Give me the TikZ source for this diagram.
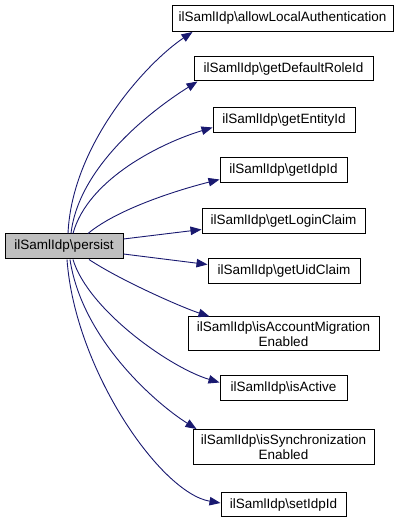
\documentclass[tikz,border=0pt]{standalone}
\usepackage{fontspec}
\setmainfont{Liberation Sans}
\usepackage{tikz}
\usetikzlibrary{arrows.meta}
\definecolor{callblue}{HTML}{191970}
\definecolor{rootgray}{HTML}{BFBFBF}

\begin{document}
\begin{tikzpicture}[x=1pt,y=1pt,
  fn/.style={draw=black, line width=1pt, fill=white, inner sep=0pt,
    minimum height=25pt, align=center, font=\fontsize{13.5}{15}\selectfont},
  call/.style={draw=callblue, line width=0.9pt, -{Triangle[length=11pt,width=8.5pt]}}]
  \useasboundingbox (0,0) rectangle (401,525);
  \node[fn, fill=rootgray, minimum width=118pt] (persist) at (64,278.5) {ilSamlIdp\textbackslash persist};
  \node[fn, minimum width=221pt, minimum height=26pt] (allow) at (282.5,506.5) {ilSamlIdp\textbackslash allowLocalAuthentication};
  \node[fn, minimum width=179pt, minimum height=24pt] (defrole) at (283.5,456) {ilSamlIdp\textbackslash getDefaultRoleId};
  \node[fn, minimum width=142pt] (entity) at (284,404.5) {ilSamlIdp\textbackslash getEntityId};
  \node[fn, minimum width=127pt] (idpid) at (283.5,354.5) {ilSamlIdp\textbackslash getIdpId};
  \node[fn, minimum width=163pt] (login) at (283.5,303.5) {ilSamlIdp\textbackslash getLoginClaim};
  \node[fn, minimum width=152pt] (uid) at (284,253.5) {ilSamlIdp\textbackslash getUidClaim};
  \node[fn, minimum width=191pt, minimum height=34pt] (migration) at (283.5,191) {ilSamlIdp\textbackslash isAccountMigration\\Enabled};
  \node[fn, minimum width=127pt] (active) at (283.5,136.5) {ilSamlIdp\textbackslash isActive};
  \node[fn, minimum width=181pt, minimum height=35pt] (sync) at (283.5,78) {ilSamlIdp\textbackslash isSynchronization\\Enabled};
  \node[fn, minimum width=125pt, minimum height=24pt] (setidp) at (283.5,20) {ilSamlIdp\textbackslash setIdpId};
  % calls from persist
  \draw[call] ([xshift=4pt]persist.north) .. controls +(4,90) and +(-45,-30) .. ([xshift=21pt]allow.south west);
  \draw[call] ([xshift=7pt]persist.north) .. controls +(8,70) and +(-40,-25) .. ([xshift=4pt]defrole.south west);
  \draw[call] ([xshift=9pt]persist.north) .. controls +(15,55) and +(-50,-15) .. ([yshift=-7pt]entity.west);
  \draw[call] ([xshift=24pt]persist.north) .. controls +(30,25) and +(-40,-10) .. ([yshift=-9pt]idpid.west);
  \draw[call] ([yshift=7.5pt]persist.east) -- ([yshift=-8pt]login.west);
  \draw[call] ([yshift=-7.5pt]persist.east) -- ([yshift=7pt]uid.west);
  \draw[call] ([xshift=25pt]persist.south) .. controls +(30,-20) and +(-30,10) .. ([xshift=22pt]migration.north west);
  \draw[call] ([xshift=9pt]persist.south) .. controls +(15,-50) and +(-50,15) .. ([yshift=6pt]active.west);
  \draw[call] ([xshift=6pt]persist.south) .. controls +(12,-80) and +(-40,25) .. ([xshift=4pt]sync.north west);
  \draw[call] ([xshift=3pt]persist.south) .. controls +(8,-110) and +(-60,10) .. ([yshift=2pt]setidp.west);
\end{tikzpicture}
\end{document}
